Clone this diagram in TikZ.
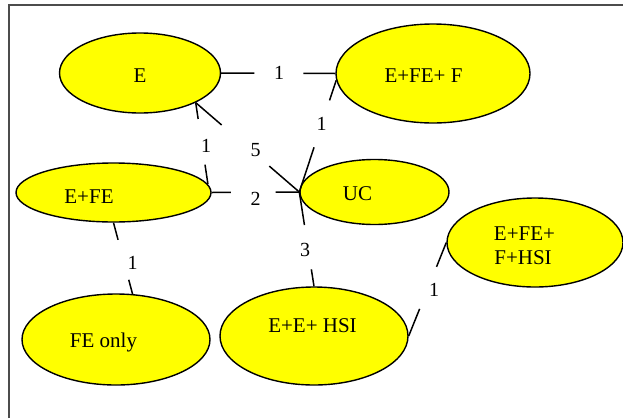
\documentclass[tikz,border=0pt]{standalone}
\usepackage{fontspec}
\setmainfont{Liberation Serif}
\usetikzlibrary{shapes.geometric,calc}
\definecolor{statefill}{RGB}{255,255,0}

% a link drawn as two pieces, leaving a gap between fractions #3 and #4 for its weight
\newcommand\splitlink[4]{%
  \draw[link] (#1) -- ($(#1)!#3!(#2)$) ($(#1)!#4!(#2)$) -- (#2);}

\begin{document}
\begin{tikzpicture}[x=1pt,y=-1pt,
  state/.style={ellipse,draw=black,line width=1.4pt,fill=statefill,inner sep=0pt},
  statename/.style={anchor=base,inner sep=0pt,font=\fontsize{21}{21}\selectfont},
  weight/.style={inner sep=0pt,font=\fontsize{20}{20}\selectfont},
  link/.style={line width=1.5pt,black}]
\useasboundingbox (0,0) rectangle (623,418);
\fill[white] (0,0) rectangle (623,418);
\draw[line width=1.8pt,black!70] (9,418) -- (9,5) -- (623,5);

% states
\node[state,minimum width=161pt,minimum height=80pt] (E) at (140,73) {};
\node[state,minimum width=194pt,minimum height=99pt] (EFEF) at (433,73.5) {};
\node[state,minimum width=195pt,minimum height=59pt] (EFE) at (113.5,192.5) {};
\node[state,minimum width=149pt,minimum height=65pt] (UC) at (374.5,192) {};
\node[state,minimum width=188pt,minimum height=91pt] (FEO) at (116,339.5) {};
\node[state,minimum width=188pt,minimum height=98pt] (EEHSI) at (314,336) {};
\node[state,minimum width=176pt,minimum height=89pt] (EFEFHSI) at (535,242.5) {};

% state names
\node[statename] (tE) at (140,82) {E};
\node[statename] (tEFEF) at (423.5,82) {E+FE+ F};
\node[statename] (tEFE) at (89,203) {E+FE};
\node[statename] (tUC) at (357.5,200) {UC};
\node[statename] (tFEO) at (103.5,347) {FE only};
\node[statename] (tEEHSI) at (312.5,332) {E+E+ HSI};
\node[statename] (tEFEFHSIa) at (524.5,240) {E+FE+};
\node[statename] (tEFEFHSIb) at (523,264) {F+HSI};

% links
\splitlink{E.0}{EFEF.180}{0.29}{0.72}
\splitlink{EFEF.184}{UC.west}{0.18}{0.60}
\splitlink{E.-28}{EFE.5}{0.20}{0.76}
\splitlink{E.-28}{UC.west}{0.25}{0.71}
\splitlink{EFE.east}{UC.west}{0.22}{0.73}
\splitlink{UC.west}{EEHSI.north}{0.35}{0.82}
\splitlink{EFE.south}{FEO.70}{0.24}{0.80}
\splitlink{EEHSI.east}{EFEFHSI.west}{0.29}{0.74}

% weights
\node[weight] (w1) at (279,73) {1};
\node[weight] (w2) at (321.5,124) {1};
\node[weight] (w3) at (206,146) {1};
\node[weight] (w4) at (255.5,150) {5};
\node[weight] (w5) at (255.5,199) {2};
\node[weight] (w6) at (305,249.5) {3};
\node[weight] (w7) at (132.5,262.5) {1};
\node[weight] (w8) at (434,290) {1};
\end{tikzpicture}
\end{document}
